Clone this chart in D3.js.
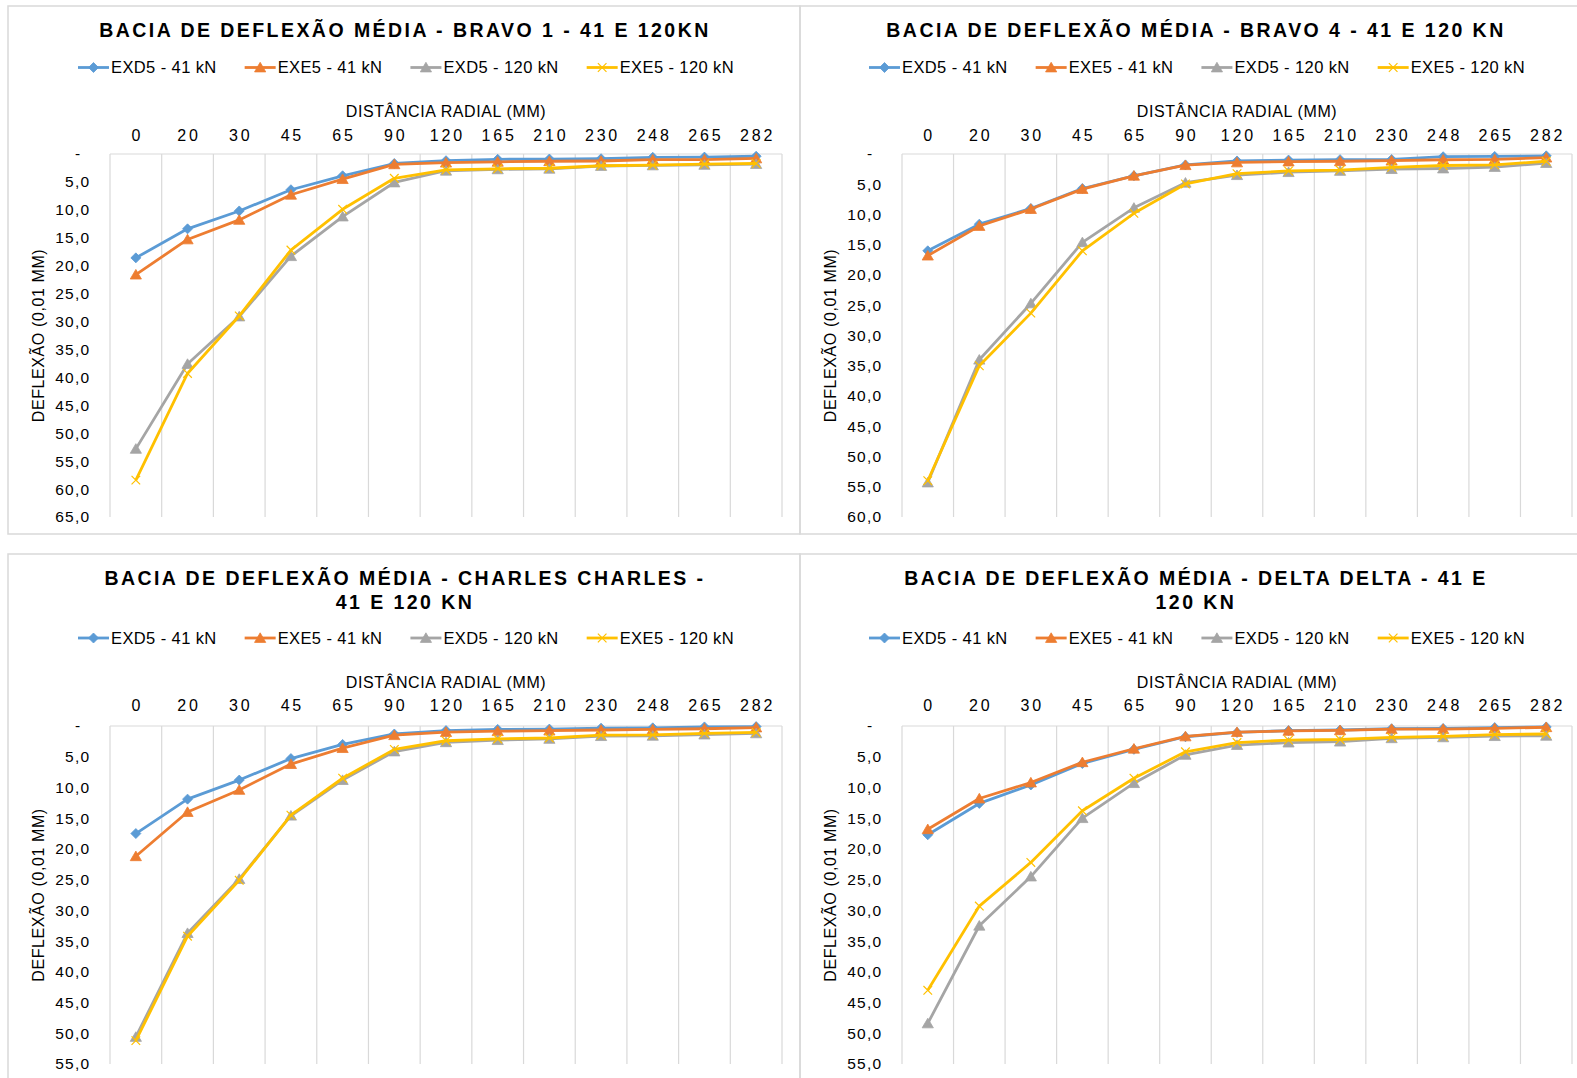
<!DOCTYPE html>
<html><head><meta charset="utf-8">
<script src="https://cdn.jsdelivr.net/npm/d3@7"></script>
<style>
body{margin:0;background:#fff;}
svg{display:block;font-family:"Liberation Sans",Arial,sans-serif;}
</style>
</head><body>
<svg id="c" width="1577" height="1078"></svg>
<script>
// ---------- DATA ----------
const categories = ["0","20","30","45","65","90","120","165","210","230","248","265","282"];
const seriesNames = ["EXD5 - 41 kN","EXE5 - 41 kN","EXD5 - 120 kN","EXE5 - 120 kN"];

const bravo1_exd5_41  = [18.6,13.4,10.2,6.4,3.9,1.7,1.2,0.95,0.9,0.85,0.6,0.55,0.4];
const bravo1_exe5_41  = [21.6,15.3,11.8,7.3,4.5,1.85,1.55,1.4,1.3,1.25,1.0,1.0,0.8];
const bravo1_exd5_120 = [52.8,37.6,29.1,18.3,11.2,5.1,3.0,2.75,2.65,2.15,2.05,1.95,1.8];
const bravo1_exe5_120 = [58.4,39.3,29.0,17.2,9.9,4.35,2.85,2.65,2.55,2.1,2.0,1.8,1.7];

const bravo4_exd5_41  = [16.0,11.6,9.0,5.7,3.6,1.8,1.15,1.0,0.93,0.9,0.45,0.4,0.3];
const bravo4_exe5_41  = [16.8,11.9,9.1,5.8,3.6,1.85,1.4,1.25,1.2,1.1,0.95,0.9,0.6];
const bravo4_exd5_120 = [54.3,34.0,24.7,14.6,8.9,4.75,3.5,3.0,2.8,2.5,2.4,2.15,1.5];
const bravo4_exe5_120 = [54.0,35.0,26.3,16.0,9.8,4.95,3.25,2.8,2.65,2.2,1.9,1.8,1.2];

const charles_exd5_41  = [17.5,11.9,8.8,5.3,3.0,1.3,0.75,0.55,0.5,0.35,0.3,0.15,0.1];
const charles_exe5_41  = [21.2,14.0,10.4,6.2,3.6,1.5,1.0,0.85,0.75,0.65,0.55,0.45,0.25];
const charles_exd5_120 = [50.6,33.7,24.9,14.6,8.8,4.15,2.65,2.3,2.1,1.65,1.6,1.4,1.2];
const charles_exe5_120 = [51.2,34.2,25.1,14.5,8.5,3.8,2.4,2.1,1.95,1.5,1.45,1.2,1.05];

const delta_exd5_41  = [17.7,12.6,9.6,6.1,3.8,1.75,1.05,0.75,0.65,0.45,0.4,0.25,0.15];
const delta_exe5_41  = [16.8,11.8,9.2,5.9,3.7,1.7,1.0,0.8,0.7,0.5,0.5,0.4,0.2];
const delta_exd5_120 = [48.4,32.5,24.5,15.0,9.3,4.7,3.1,2.7,2.55,2.0,1.85,1.65,1.6];
const delta_exe5_120 = [43.0,29.3,22.2,13.8,8.5,4.2,2.7,2.3,2.2,1.85,1.7,1.4,1.3];

const panelTitles = [
  ["BACIA DE DEFLEXÃO MÉDIA - BRAVO 1 - 41 E 120KN"],
  ["BACIA DE DEFLEXÃO MÉDIA - BRAVO 4 - 41 E 120 KN"],
  ["BACIA DE DEFLEXÃO MÉDIA - CHARLES CHARLES -", "41 E 120 KN"],
  ["BACIA DE DEFLEXÃO MÉDIA - DELTA DELTA - 41 E", "120 KN"]
];
const yMaxes = [65, 60, 55, 55];
const xAxisTitle = "DISTÂNCIA RADIAL (MM)";
const yAxisTitle = "DEFLEXÃO (0,01 MM)";

const panelSeries = [
  [bravo1_exd5_41, bravo1_exe5_41, bravo1_exd5_120, bravo1_exe5_120],
  [bravo4_exd5_41, bravo4_exe5_41, bravo4_exd5_120, bravo4_exe5_120],
  [charles_exd5_41, charles_exe5_41, charles_exd5_120, charles_exe5_120],
  [delta_exd5_41, delta_exe5_41, delta_exd5_120, delta_exe5_120]
];

// ---------- STYLE / LAYOUT ----------
const colors = ["#5B9BD5", "#ED7D31", "#A5A5A5", "#FFC000"];
const markerTypes = ["diamond", "triangle", "triangle", "x"];
const GRID = "#d9d9d9";

const cols = [
  {rx0: 8, rx1: 800, px0: 110, px1: 782, cx: 404, yTitleX: 38, tickRight: 89},
  {rx0: 800, rx1: 1592, px0: 902, px1: 1572, cx: 1195, yTitleX: 830, tickRight: 881}
];
const rows = [
  {ry0: 6, ry1: 534, py0: 154, py1: 517, titleY: [37], legendY: 67.5, axTitleY: 116.5, tickPad: 13.3},
  {ry0: 554, ry1: 1100, py0: 726, py1: 1064, titleY: [584.7, 608.7], legendY: 638, axTitleY: 688, tickPad: 14.8}
];

const svg = d3.select("#c");

function markerPath(type) {
  if (type === "diamond") return "M0,-5L5,0L0,5L-5,0Z";
  if (type === "triangle") return "M0,-5.2L5.6,4.4L-5.6,4.4Z";
  return "M-4.3,-4.3L4.3,4.3M-4.3,4.3L4.3,-4.3";
}
function drawMarker(g, type, color, x, y) {
  const p = g.append("path").attr("d", markerPath(type)).attr("transform", `translate(${x},${y})`);
  if (type === "x") p.attr("fill", "none").attr("stroke", color).attr("stroke-width", 1.2);
  else p.attr("fill", color).attr("stroke", color).attr("stroke-width", 0.8);
}

panelSeries.forEach((series, pi) => {
  const c = cols[pi % 2], r = rows[Math.floor(pi / 2)];
  const g = svg.append("g");

  g.append("rect").attr("x", c.rx0).attr("y", r.ry0)
    .attr("width", c.rx1 - c.rx0).attr("height", r.ry1 - r.ry0)
    .attr("fill", "none").attr("stroke", GRID).attr("stroke-width", 1.5);

  const x = d3.scaleBand().domain(categories).range([c.px0, c.px1]).padding(0);
  const y = d3.scaleLinear().domain([0, yMaxes[pi]]).range([r.py0, r.py1]);
  const bw = x.bandwidth();

  const bounds = categories.map(d => x(d)).concat([x.range()[1]]);
  g.selectAll(null).data(bounds).enter().append("line")
    .attr("x1", d => d).attr("x2", d => d)
    .attr("y1", r.py0).attr("y2", r.py1)
    .attr("stroke", GRID).attr("stroke-width", 1.2);
  g.append("line").attr("x1", c.px0).attr("x2", c.px1).attr("y1", r.py0).attr("y2", r.py0)
    .attr("stroke", GRID).attr("stroke-width", 1.2);

  const xa = g.append("g").attr("transform", `translate(0,${r.py0})`)
    .call(d3.axisTop(x).tickSize(0).tickPadding(r.tickPad));
  xa.select(".domain").remove();
  xa.selectAll("text").attr("font-size", 16).attr("fill", "#000")
    .attr("font-family", '"Liberation Sans",Arial,sans-serif')
    .style("letter-spacing", "2.8px").attr("dx", 1.4);

  const ya = g.append("g").attr("transform", `translate(${c.tickRight + 1.5},0)`)
    .call(d3.axisLeft(y).tickValues(d3.range(0, yMaxes[pi] + 0.1, 5)).tickSize(0).tickPadding(0)
      .tickFormat(d => d === 0 ? "-" : d.toFixed(1).replace(".", ",")));
  ya.select(".domain").remove();
  ya.selectAll("text").attr("font-size", 15.5).attr("fill", "#000")
    .attr("font-family", '"Liberation Sans",Arial,sans-serif')
    .style("letter-spacing", "1.3px")
    .attr("x", d => d === 0 ? -9 : 0);

  panelTitles[pi].forEach((t, li) => {
    g.append("text").attr("x", c.cx + 1).attr("y", r.titleY[li])
      .attr("text-anchor", "middle").attr("font-size", 19.5).attr("font-weight", "bold")
      .style("letter-spacing", "2.45px").attr("fill", "#000").text(t);
  });

  g.append("text").attr("x", (c.px0 + c.px1) / 2).attr("y", r.axTitleY)
    .attr("text-anchor", "middle").attr("font-size", 16).style("letter-spacing", "0.6px")
    .attr("fill", "#000").text(xAxisTitle);
  g.append("text").attr("transform", `translate(${c.yTitleX + 5.7},${(r.py0 + r.py1) / 2}) rotate(-90)`)
    .attr("text-anchor", "middle").attr("font-size", 16).style("letter-spacing", "0.6px")
    .attr("fill", "#000").text(yAxisTitle);

  const line = d3.line().x((d, i) => x(categories[i]) + bw / 2).y(d => y(d));
  series.forEach((vals, si) => {
    const sg = g.append("g");
    sg.append("path").datum(vals).attr("d", line)
      .attr("fill", "none").attr("stroke", colors[si]).attr("stroke-width", 2.8)
      .attr("stroke-linejoin", "round");
    vals.forEach((v, i) => drawMarker(sg, markerTypes[si], colors[si], x(categories[i]) + bw / 2, y(v)));
  });

  const lg = g.append("g");
  const items = [];
  let cur = 0;
  seriesNames.forEach((name, si) => {
    const it = lg.append("g");
    it.append("line").attr("x1", 0).attr("x2", 31).attr("y1", 0).attr("y2", 0)
      .attr("stroke", colors[si]).attr("stroke-width", 2.8);
    drawMarker(it, markerTypes[si], colors[si], 15.5, 0);
    const tx = it.append("text").attr("x", 33).attr("y", 5.9).attr("font-size", 16.5)
      .style("letter-spacing", "0.4px").attr("fill", "#000").text(name);
    const w = 33 + tx.node().getComputedTextLength();
    items.push({it, x: cur});
    cur += w + (si < seriesNames.length - 1 ? 28 : 0);
  });
  const start = c.cx + 2 - cur / 2;
  items.forEach(o => o.it.attr("transform", `translate(${start + o.x},${r.legendY})`));
});
</script>
</body></html>
